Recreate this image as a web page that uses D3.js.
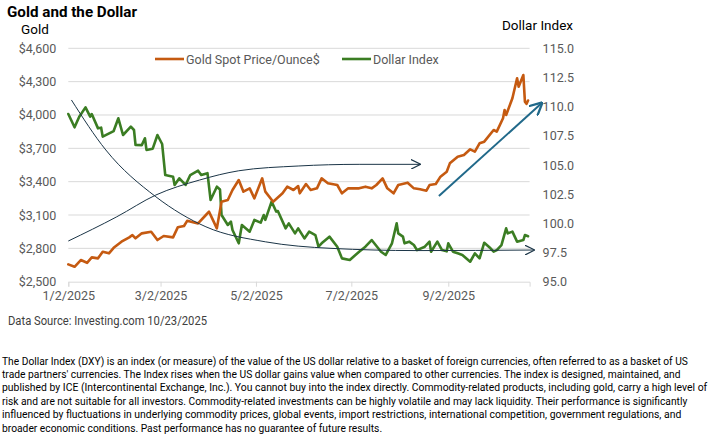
<!DOCTYPE html>
<html>
<head>
<meta charset="utf-8">
<script src="https://cdn.jsdelivr.net/npm/d3@7"></script>
<style>
  body { margin: 0; background: #fff; }
  svg { display: block; font-family: Roboto, "Noto Sans", sans-serif; }
</style>
</head>
<body>
<svg id="chart" width="714" height="442"></svg>
<script>
// Gold spot price ($/oz)
var goldDates = ["2025-01-02","2025-01-06","2025-01-10","2025-01-14","2025-01-17","2025-01-21","2025-01-24","2025-01-28","2025-01-31",
    "2025-02-05","2025-02-10","2025-02-12","2025-02-14","2025-02-18","2025-02-24","2025-02-28","2025-03-04","2025-03-10","2025-03-13",
    "2025-03-17","2025-03-19","2025-03-24","2025-03-26","2025-03-31","2025-04-02","2025-04-04","2025-04-07","2025-04-10","2025-04-14",
    "2025-04-17","2025-04-21","2025-04-24","2025-04-28","2025-05-01","2025-05-06","2025-05-08","2025-05-13","2025-05-19","2025-05-22",
    "2025-05-26","2025-05-29","2025-05-30","2025-06-03","2025-06-06","2025-06-10","2025-06-13","2025-06-17","2025-06-23","2025-06-26",
    "2025-06-30","2025-07-07","2025-07-11","2025-07-15","2025-07-18","2025-07-22","2025-07-25","2025-07-29","2025-08-01","2025-08-07",
    "2025-08-11","2025-08-15","2025-08-19","2025-08-21","2025-08-25","2025-08-28","2025-09-01","2025-09-03","2025-09-08","2025-09-12",
    "2025-09-16","2025-09-19","2025-09-22","2025-09-25","2025-10-01","2025-10-03","2025-10-07","2025-10-08","2025-10-09","2025-10-13",
    "2025-10-16","2025-10-17","2025-10-20","2025-10-21","2025-10-22","2025-10-23"];
var goldValues = [2656,2634,2695,2670,2719,2710,2770,2755,2805,
    2860,2899,2920,2890,2935,2950,2875,2911,2899,2989,
    3001,3048,3030,3025,3100,3130,3070,2980,3220,3235,
    3325,3415,3310,3340,3250,3430,3310,3220,3295,3355,
    3325,3361,3295,3379,3325,3340,3430,3385,3370,3295,
    3340,3340,3355,3340,3370,3430,3340,3295,3370,3391,
    3340,3331,3319,3370,3379,3445,3490,3565,3625,3640,
    3691,3670,3745,3760,3865,3850,3970,4045,4000,4150,
    4330,4254,4360,4120,4100,4130];

// US Dollar Index (DXY)
var dollarDates = ["2025-01-02","2025-01-06","2025-01-09","2025-01-13","2025-01-16","2025-01-17","2025-01-21","2025-01-23","2025-01-24",
    "2025-01-31","2025-02-03","2025-02-06","2025-02-11","2025-02-13","2025-02-14","2025-02-18","2025-02-20","2025-02-21","2025-02-25",
    "2025-02-28","2025-03-03","2025-03-05","2025-03-10","2025-03-11","2025-03-14","2025-03-18","2025-03-21","2025-03-26","2025-03-28",
    "2025-04-01","2025-04-03","2025-04-07","2025-04-09","2025-04-10","2025-04-14","2025-04-16","2025-04-17","2025-04-21","2025-04-23",
    "2025-04-28","2025-05-01","2025-05-05","2025-05-07","2025-05-08","2025-05-12","2025-05-15","2025-05-16","2025-05-21","2025-05-23",
    "2025-05-27","2025-05-29","2025-06-02","2025-06-05","2025-06-09","2025-06-11","2025-06-13","2025-06-18","2025-06-23","2025-06-26",
    "2025-07-01","2025-07-07","2025-07-11","2025-07-15","2025-07-21","2025-07-24","2025-07-28","2025-07-31","2025-08-01","2025-08-04",
    "2025-08-05","2025-08-08","2025-08-11","2025-08-13","2025-08-18","2025-08-21","2025-08-22","2025-08-26","2025-08-29","2025-09-01",
    "2025-09-02","2025-09-05","2025-09-08","2025-09-11","2025-09-16","2025-09-19","2025-09-22","2025-09-25","2025-09-29","2025-10-01",
    "2025-10-03","2025-10-06","2025-10-09","2025-10-10","2025-10-13","2025-10-16","2025-10-20","2025-10-21","2025-10-23"];
var dollarValues = [109.37,108.23,109.14,109.94,109.14,109.37,108.14,108.2,107.43,
    107.91,109.0,107.57,108.28,108.0,106.71,106.7,107.29,106.29,106.4,
    107.57,106.8,104.14,104.0,103.29,103.86,103.29,104.14,104.51,104.14,
    104.3,102.0,103.14,102.9,100.71,99.86,100.14,99.43,98.29,99.86,
    99.29,100.29,100.06,100.71,100.3,101.86,101.0,101.06,99.57,100.0,
    99.14,99.57,98.71,99.29,99.0,98.0,98.29,98.86,98.0,97.0,
    96.86,97.57,98.0,98.57,97.57,97.29,98.29,100.0,99.14,98.86,
    98.29,98.43,98.14,97.71,98.0,98.43,97.57,98.43,97.71,97.6,
    98.29,97.57,97.43,97.29,96.71,97.43,97.0,98.34,97.86,97.57,
    97.71,98.14,99.57,99.14,99.29,98.43,98.57,99.0,98.9];

var goldTicks = [2500, 2800, 3100, 3400, 3700, 4000, 4300, 4600];
var dollarTicks = [95, 97.5, 100, 102.5, 105, 107.5, 110, 112.5, 115];
var dateTicks = ["2025-01-02","2025-03-02","2025-05-02","2025-07-02","2025-09-02"];

// hand-drawn trend annotations, as [date, gold-axis value]
var fallingCurve = [["2025-01-04",4135],["2025-01-26",3685],["2025-02-27",3264],["2025-03-31",2994],
    ["2025-05-08",2859],["2025-06-19",2800],["2025-08-13",2780],["2025-10-27",2785]];
var risingCurve = [["2025-01-02",2866],["2025-02-02",3084],["2025-02-27",3280],["2025-03-27",3415],
    ["2025-04-21",3498],["2025-05-29",3541],["2025-07-07",3556],["2025-08-15",3556]];
var goldArrow = [["2025-08-27",3271],["2025-11-01",4110]];

var footnote = [
    "The Dollar Index (DXY) is an index (or measure) of the value of the US dollar relative to a basket of foreign currencies, often referred to as a basket of US",
    "trade partners' currencies.  The Index rises when the US dollar gains value when compared to other currencies.  The index is designed, maintained, and",
    "published by ICE (Intercontinental Exchange, Inc.). You cannot buy into the index directly. Commodity-related products, including gold, carry a high level of",
    "risk and are not suitable for all investors. Commodity-related investments can be highly volatile and may lack liquidity. Their performance is significantly",
    "influenced by fluctuations in underlying commodity prices, global events, import restrictions, international competition, government regulations, and",
    "broader economic conditions. Past performance has no guarantee of future results."
];
var footnoteWidths = [686, 679, 705, 686, 680, 380];

var parse = d3.timeParse("%Y-%m-%d");
var svg = d3.select("#chart");
var plot = {left: 68.3, right: 529.6, top: 48.3, bottom: 281.7};
var gridColor = "#d9d9d9", labelColor = "#595959";
var goldColor = "#c55a11", dollarColor = "#3b7d23";

svg.append("rect").attr("width", 714).attr("height", 442).attr("fill", "#fff");

var x = d3.scaleTime()
    .domain([parse("2025-01-02"), parse("2025-10-24")])
    .range([plot.left, plot.right]);
var yGold = d3.scaleLinear().domain([2500, 4600]).range([plot.bottom, plot.top]);
var yDollar = d3.scaleLinear().domain([95, 115]).range([plot.bottom, plot.top]);

// grid lines
svg.append("g").selectAll("line")
    .data(goldTicks.slice(1))
    .join("line")
    .attr("x1", plot.left).attr("x2", plot.right)
    .attr("y1", function(d) { return yGold(d); })
    .attr("y2", function(d) { return yGold(d); })
    .attr("stroke", gridColor).attr("stroke-width", 1);

// axes
var leftAxis = svg.append("g")
    .attr("transform", "translate(" + plot.left + ",0)")
    .call(d3.axisLeft(yGold).tickValues(goldTicks).tickFormat(d3.format("$,")).tickSize(0).tickPadding(12));
var rightAxis = svg.append("g")
    .attr("transform", "translate(" + plot.right + ",0)")
    .call(d3.axisRight(yDollar).tickValues(dollarTicks).tickFormat(d3.format(".1f")).tickSize(0).tickPadding(13));
var bottomAxis = svg.append("g")
    .attr("transform", "translate(0," + plot.bottom + ")")
    .call(d3.axisBottom(x).tickValues(dateTicks.map(parse)).tickFormat(d3.timeFormat("%-m/%-d/%Y")).tickSizeOuter(0).tickSize(5).tickPadding(4));

[leftAxis, rightAxis].forEach(function(a) { a.select(".domain").remove(); });
bottomAxis.select(".domain").attr("stroke", gridColor);
bottomAxis.selectAll(".tick line").attr("stroke", gridColor);
[leftAxis, rightAxis, bottomAxis].forEach(function(a) {
    a.selectAll("text").attr("fill", labelColor).style("font-size", "12.5px")
        .style("font-family", "Roboto, sans-serif");
});

// series
var goldData = goldDates.map(function(d, i) { return {date: parse(d), value: goldValues[i]}; });
var dollarData = dollarDates.map(function(d, i) { return {date: parse(d), value: dollarValues[i]}; });

svg.append("path").datum(dollarData)
    .attr("fill", "none").attr("stroke", dollarColor).attr("stroke-width", 2.6)
    .attr("stroke-linejoin", "round").attr("stroke-linecap", "round")
    .attr("d", d3.line().x(function(d) { return x(d.date); }).y(function(d) { return yDollar(d.value); }));
svg.append("path").datum(goldData)
    .attr("fill", "none").attr("stroke", goldColor).attr("stroke-width", 2.6)
    .attr("stroke-linejoin", "round").attr("stroke-linecap", "round")
    .attr("d", d3.line().x(function(d) { return x(d.date); }).y(function(d) { return yGold(d.value); }));

// annotations
var defs = svg.append("defs");
function openArrow(id, color, size, width) {
    defs.append("marker").attr("id", id)
        .attr("viewBox", "0 0 10 10").attr("refX", 9.5).attr("refY", 5)
        .attr("markerWidth", size).attr("markerHeight", size)
        .attr("markerUnits", "userSpaceOnUse").attr("orient", "auto")
        .append("path").attr("d", "M0,0 L10,5 L0,10")
        .attr("fill", "none").attr("stroke", color).attr("stroke-width", width);
}
openArrow("navyHead", "#1b3547", 10, 1.2);
openArrow("tealHead", "#21698a", 13, 1.8);

var noteLine = d3.line()
    .x(function(d) { return x(parse(d[0])); })
    .y(function(d) { return yGold(d[1]); })
    .curve(d3.curveMonotoneX);

[fallingCurve, risingCurve].forEach(function(c) {
    svg.append("path").datum(c)
        .attr("fill", "none").attr("stroke", "#1b3547").attr("stroke-width", 1)
        .attr("marker-end", "url(#navyHead)")
        .attr("d", noteLine);
});
svg.append("path").datum(goldArrow)
    .attr("fill", "none").attr("stroke", "#21698a").attr("stroke-width", 2)
    .attr("marker-end", "url(#tealHead)")
    .attr("d", d3.line().x(function(d) { return x(parse(d[0])); }).y(function(d) { return yGold(d[1]); }));

// legend
var legend = svg.append("g").style("font-size", "12.5px").attr("fill", labelColor);
[{label: "Gold Spot Price/Ounce$", color: goldColor, x: 155}, {label: "Dollar Index", color: dollarColor, x: 342}]
    .forEach(function(l) {
        legend.append("line").attr("x1", l.x).attr("x2", l.x + 29).attr("y1", 59).attr("y2", 59)
            .attr("stroke", l.color).attr("stroke-width", 2.6);
        legend.append("text").attr("x", l.x + 31).attr("y", 63.5).text(l.label);
    });

// titles
svg.append("text").attr("x", 7).attr("y", 17).style("font-weight", "bold").style("font-size", "15.2px")
    .attr("fill", "#000").text("Gold and the Dollar");
svg.append("text").attr("x", 21).attr("y", 34).style("font-size", "13.5px").attr("fill", "#000").text("Gold");
svg.append("text").attr("x", 573).attr("y", 29.5).attr("text-anchor", "end").style("font-size", "13.5px")
    .attr("fill", "#000").text("Dollar Index");

svg.append("text").attr("x", 8).attr("y", 324.5).style("font-size", "12.5px").attr("fill", "#404040")
    .attr("textLength", 199).attr("lengthAdjust", "spacingAndGlyphs")
    .text("Data Source: Investing.com 10/23/2025");

// footnote: squeeze each line horizontally to the width it has in the picture
svg.append("g").selectAll("text")
    .data(footnote)
    .join("text")
    .attr("x", 0)
    .attr("y", 0)
    .style("font-size", "10.6px")
    .style("font-family", "Roboto, sans-serif")
    .attr("fill", "#000")
    .text(function(d) { return d; })
    .each(function(d, i) {
        var w = this.getComputedTextLength();
        var sx = footnoteWidths[i] / w;
        d3.select(this).attr("transform",
            "translate(2," + (364.5 + i * 13.4) + ") scale(" + sx + ",1)");
    });
</script>
</body>
</html>
